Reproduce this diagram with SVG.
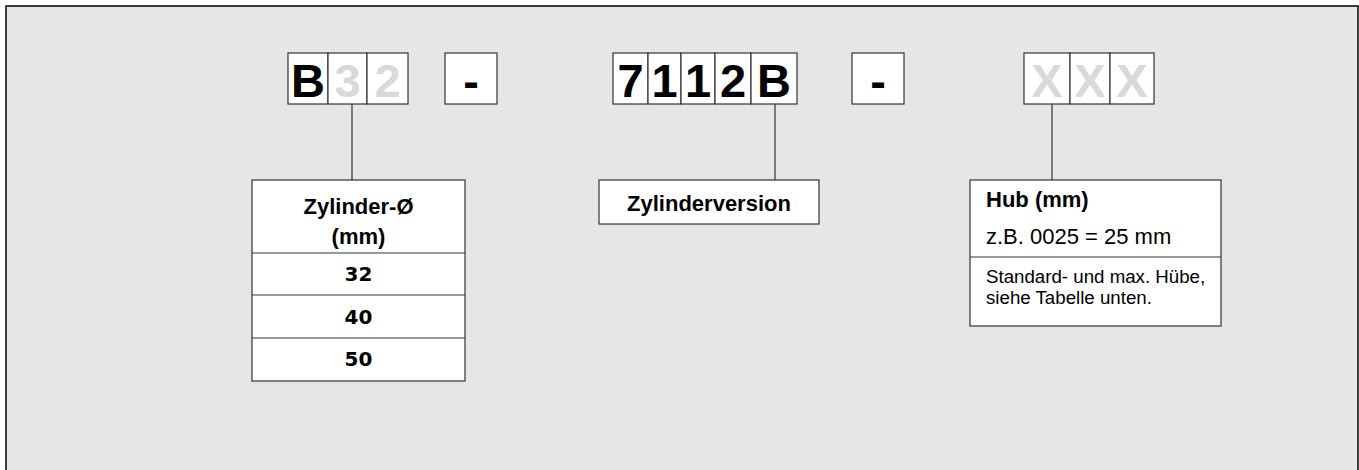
<svg xmlns="http://www.w3.org/2000/svg" width="1359" height="470" viewBox="0 0 1359 470">
<style>
.box{fill:#fff;stroke:#333;stroke-width:1.2}
.ln{stroke:#333;stroke-width:1.2;fill:none}
.big{font-family:"Liberation Sans",Arial,sans-serif;font-weight:bold;font-size:47px;text-anchor:middle;fill:#000}
.dim{fill:#d9d9d9}
.hb{font-family:"Liberation Sans",Arial,sans-serif;font-weight:bold;font-size:22px;fill:#000}
.num{font-family:"DejaVu Sans",sans-serif;font-weight:bold;font-size:20px;text-anchor:middle;fill:#000}
.reg{font-family:"Liberation Sans",Arial,sans-serif;font-size:22px;fill:#000}
.sm{font-family:"Liberation Sans",Arial,sans-serif;font-size:18.7px;fill:#000}
</style>
<rect x="0" y="0" width="1359" height="470" fill="#fff"/>
<rect x="6" y="6" width="1352" height="480" fill="#e6e6e6" stroke="#000" stroke-width="1.5"/>

<g id="connectors">
<line class="ln" x1="352" y1="104" x2="352" y2="180"/>
<line class="ln" x1="775" y1="104" x2="775" y2="180"/>
<line class="ln" x1="1052" y1="104" x2="1052" y2="180"/>
</g>

<g id="code-b32">
<rect class="box" x="288" y="53" width="40" height="51"/>
<rect class="box" x="328" y="53" width="39" height="51"/>
<rect class="box" x="367" y="53" width="41" height="51"/>
<text class="big" x="308" y="97">B</text>
<text class="big dim" x="347.5" y="97">3</text>
<text class="big dim" x="387.5" y="97">2</text>
</g>

<g id="dash1">
<rect class="box" x="445" y="53" width="52" height="51"/>
<text class="big" x="471" y="97">-</text>
</g>

<g id="code-7112b">
<rect class="box" x="613" y="53" width="35" height="51"/>
<rect class="box" x="648" y="53" width="33" height="51"/>
<rect class="box" x="681" y="53" width="34" height="51"/>
<rect class="box" x="715" y="53" width="36" height="51"/>
<rect class="box" x="751" y="53" width="46" height="51"/>
<text class="big" x="630.5" y="97">7</text>
<text class="big" x="664.5" y="97">1</text>
<text class="big" x="698" y="97">1</text>
<text class="big" x="733" y="97">2</text>
<text class="big" x="774" y="97">B</text>
</g>

<g id="dash2">
<rect class="box" x="852" y="53" width="52" height="51"/>
<text class="big" x="878" y="97">-</text>
</g>

<g id="code-xxx">
<rect class="box" x="1024" y="53" width="46" height="51"/>
<rect class="box" x="1070" y="53" width="40" height="51"/>
<rect class="box" x="1110" y="53" width="44" height="51"/>
<text class="big dim" x="1047" y="97">X</text>
<text class="big dim" x="1090" y="97">X</text>
<text class="big dim" x="1132" y="97">X</text>
</g>

<g id="zylinder-d">
<rect class="box" x="252" y="180" width="213" height="201"/>
<line class="ln" x1="252" y1="253" x2="465" y2="253"/>
<line class="ln" x1="252" y1="295" x2="465" y2="295"/>
<line class="ln" x1="252" y1="338" x2="465" y2="338"/>
<text class="hb" x="358.5" y="214" text-anchor="middle">Zylinder-Ø</text>
<text class="hb" x="358.5" y="244" text-anchor="middle">(mm)</text>
<text class="num" x="358.5" y="281">32</text>
<text class="num" x="358.5" y="324">40</text>
<text class="num" x="358.5" y="366">50</text>
</g>

<g id="zylinderversion">
<rect class="box" x="599" y="180" width="220" height="44"/>
<text class="hb" x="709" y="211" text-anchor="middle">Zylinderversion</text>
</g>

<g id="hub">
<rect class="box" x="970" y="180" width="251" height="146"/>
<line class="ln" x1="970" y1="257" x2="1221" y2="257"/>
<text class="hb" x="986" y="207">Hub (mm)</text>
<text class="reg" x="986" y="244">z.B. 0025 = 25 mm</text>
<text class="sm" x="986" y="283">Standard- und max. Hübe,</text>
<text class="sm" x="986" y="304">siehe Tabelle unten.</text>
</g>
</svg>
